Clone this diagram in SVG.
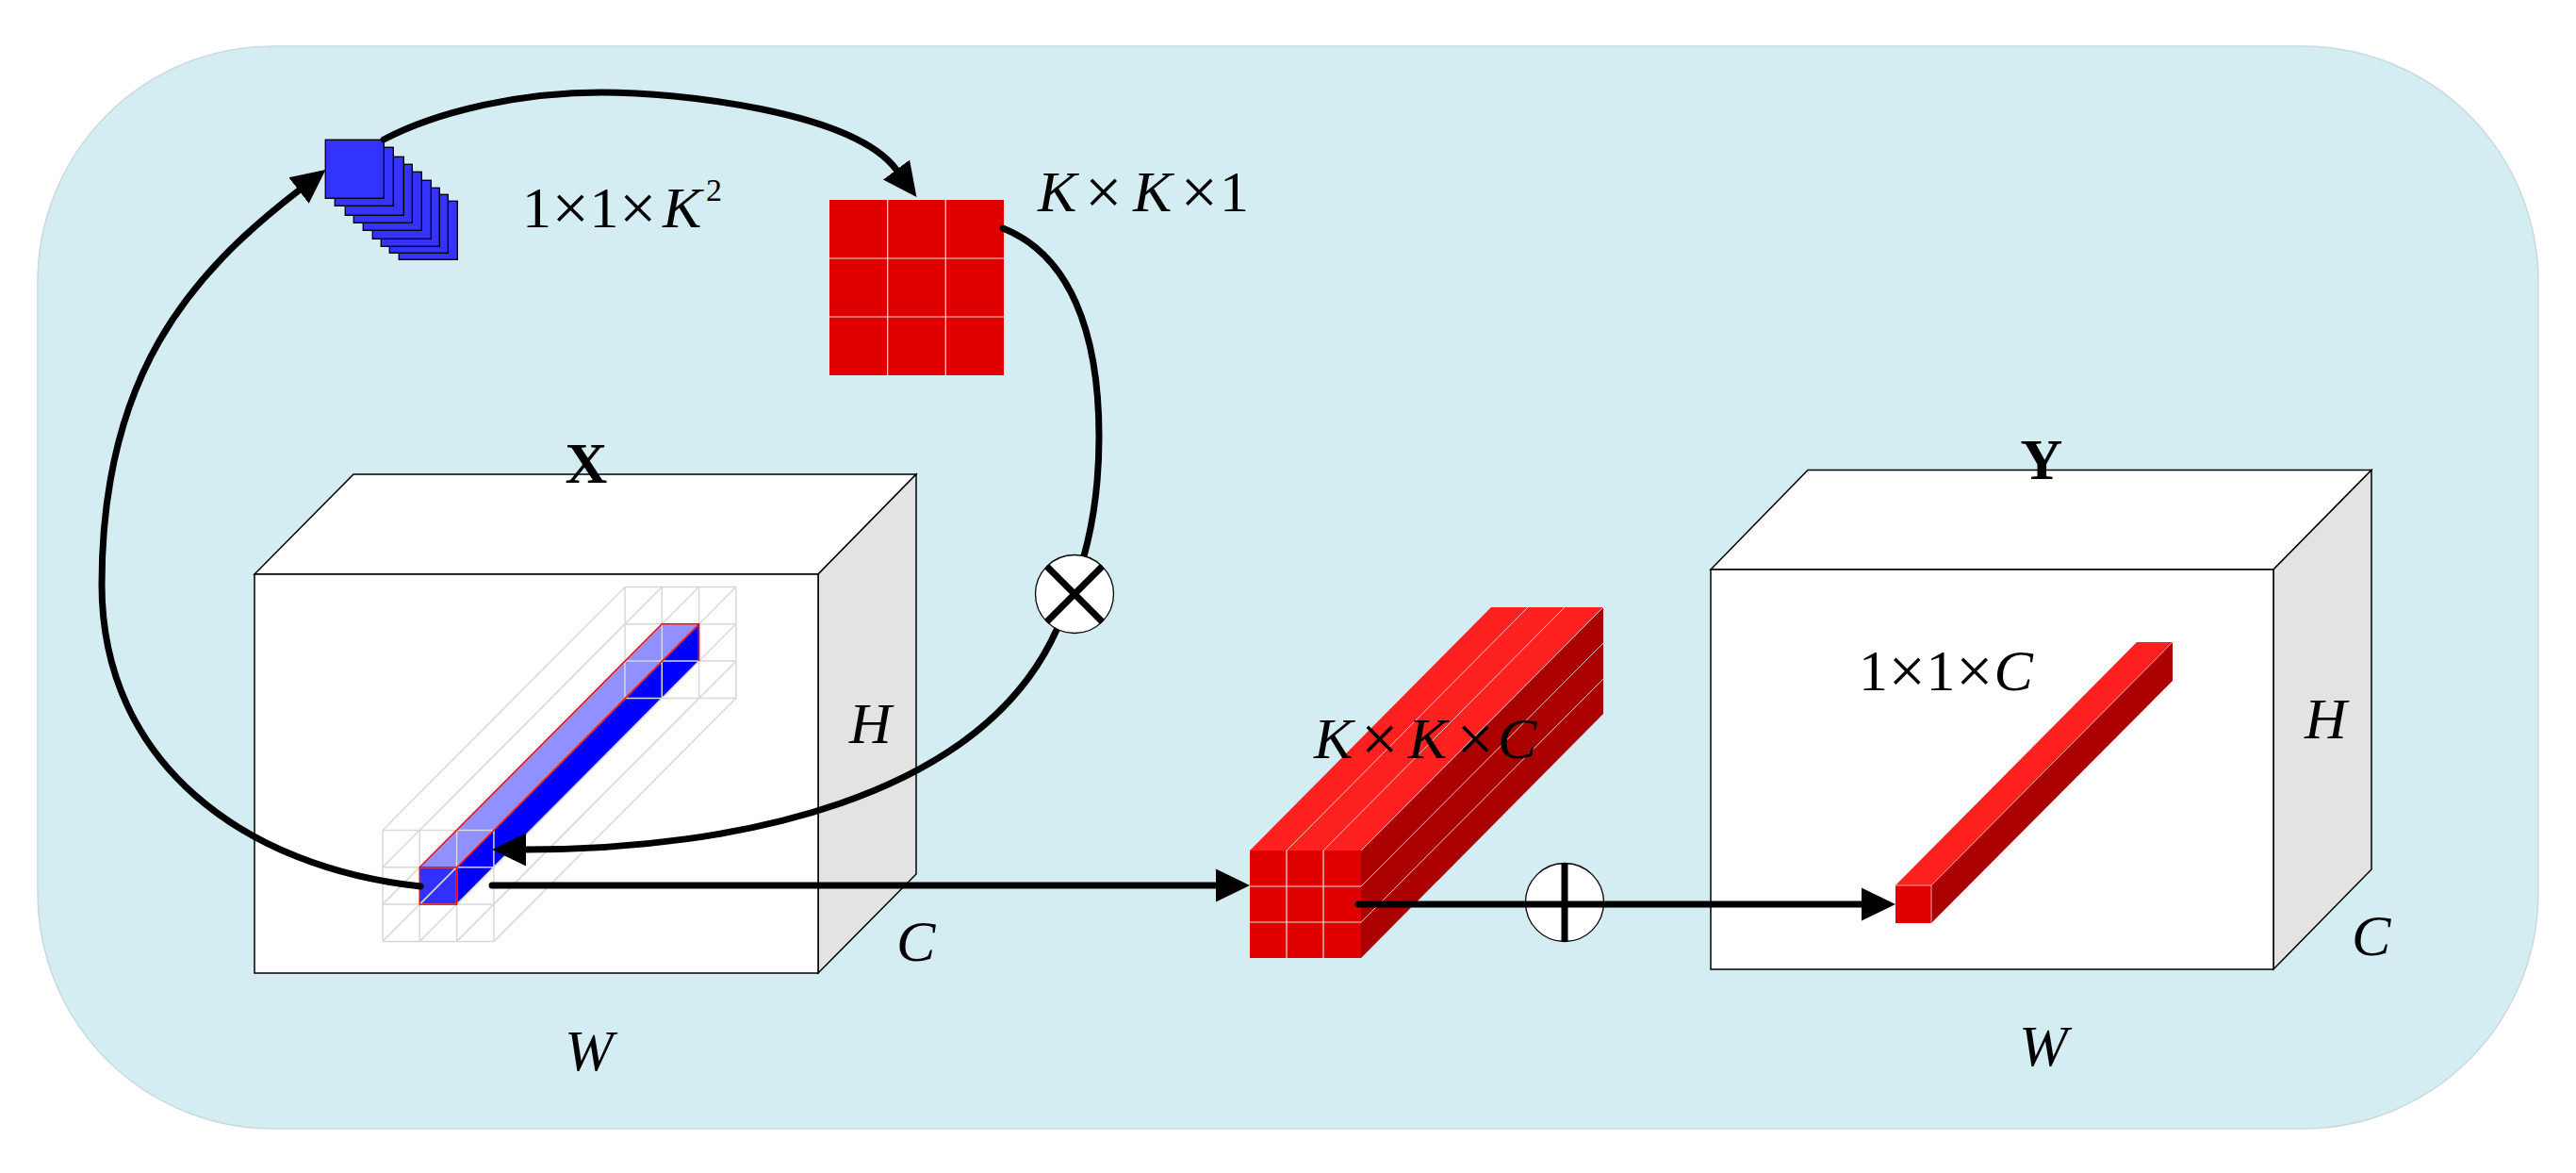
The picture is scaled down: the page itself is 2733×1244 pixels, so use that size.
<svg xmlns="http://www.w3.org/2000/svg" width="2733" height="1244" viewBox="0 0 2733 1244">
<style>
.t{font-family:"Liberation Serif","Times New Roman",serif;font-size:62px;fill:#000}
.i{font-style:italic}
.b{font-weight:bold}
.m{font-size:70px}
.cube{stroke:#000;stroke-width:1.5;stroke-linejoin:miter}
.front{fill:#fff}
.top{fill:#fff}
.side{fill:#e3e3e3}
.grid{fill:none;stroke:#d8d8d8;stroke-width:1.5}
.lite{fill:none;stroke:#e4e4e4;stroke-width:1.2}
.conn{fill:none;stroke:#000;stroke-width:7;stroke-linecap:round;stroke-linejoin:round}
.op{fill:#fff;stroke:#000;stroke-width:1.3}
.opl{stroke:#000;stroke-width:7}
.sq{fill:#3333ff;stroke:#000;stroke-width:1.4}
</style>
<defs>
<marker id="ah" viewBox="0 -20 40 40" markerWidth="40" markerHeight="40" refX="0" refY="0" orient="auto" markerUnits="userSpaceOnUse">
<path d="M0,-17.5 L36,0 L0,17.5 z" fill="#000"/>
</marker>
</defs>

<g id="background">
<rect x="40" y="49" width="2653" height="1148" rx="250" ry="250" fill="#d4edf2" stroke="#c9dade" stroke-width="1.5"/>
</g>

<g id="cube-x">
<polygon class="cube top" points="270,609 375,503 972,503 868,609"/>
<polygon class="cube side" points="868,609 972,503 972,927 868,1032"/>
<rect class="cube front" x="270" y="609" width="598" height="423"/>
<g id="x-column">
<polygon points="445.3,919.8 484.6,919.8 741.6,661.8 702.3,661.8" fill="#9090ff"/>
<polygon points="484.6,919.8 741.6,661.8 741.6,701.1 484.6,959.1" fill="#0000ff"/>
<rect x="445.3" y="919.8" width="39.3" height="39.3" fill="#3030ff"/>
</g>
<path class="grid" d="M406,880.5V998.4M445.3,880.5V998.4M484.6,880.5V998.4M523.9,880.5V998.4M406,880.5H523.9M406,919.8H523.9M406,959.1H523.9M406,998.4H523.9
M663,622.5V740.4M702.3,622.5V740.4M741.6,622.5V740.4M780.9,622.5V740.4M663,622.5H780.9M663,661.8H780.9M663,701.1H780.9M663,740.4H780.9
M406,880.5l257,-258M445.3,880.5l257,-258M484.6,880.5l257,-258M523.9,880.5l257,-258
M406,919.8l257,-258M445.3,919.8l257,-258M484.6,919.8l257,-258M523.9,919.8l257,-258
M406,959.1l257,-258M445.3,959.1l257,-258M484.6,959.1l257,-258M523.9,959.1l257,-258
M406,998.4l257,-258M445.3,998.4l257,-258M484.6,998.4l257,-258M523.9,998.4l257,-258"/>
<path d="M445.3,919.8 L702.3,661.8 L741.6,661.8 L741.6,701.1 M484.6,919.8 L741.6,661.8" fill="none" stroke="#ff0000" stroke-width="1.5"/>
<rect x="445.3" y="919.8" width="39.3" height="39.3" fill="none" stroke="#ff0000" stroke-width="1.5"/>
</g>

<g id="cube-y">
<polygon class="cube top" points="1815,604 1918,498.5 2516,498.5 2412,604"/>
<polygon class="cube side" points="2412,604 2516,498.5 2516,922 2412,1028"/>
<rect class="cube front" x="1815" y="604" width="597" height="424"/>
<g id="y-column">
<polygon points="2011,939 2049,939 2305,681 2267,681" fill="#ff2020"/>
<polygon points="2049,939 2305,681 2305,722 2049,979" fill="#aa0000"/>
<rect x="2011" y="939" width="38" height="40" fill="#e00000"/>
<path d="M2049,939 L2305,681 M2011,939H2049V979" fill="none" stroke="#f0a0a0" stroke-width="1"/>
</g>
</g>

<g id="kernel-stack">
<rect class="sq" x="423.3" y="213.3" width="62" height="62"/>
<rect class="sq" x="413.3" y="206.3" width="62" height="62"/>
<rect class="sq" x="404.3" y="199.3" width="62" height="62"/>
<rect class="sq" x="395.3" y="191.3" width="62" height="62"/>
<rect class="sq" x="385.3" y="182.3" width="62" height="62"/>
<rect class="sq" x="375.3" y="174.3" width="62" height="62"/>
<rect class="sq" x="366.3" y="166.3" width="62" height="62"/>
<rect class="sq" x="355.3" y="156.3" width="62" height="62"/>
<rect class="sq" x="345.3" y="148.3" width="62" height="62"/>
</g>

<g id="kernel-grid">
<rect x="880" y="212" width="185" height="186" fill="#e00000"/>
<path class="lite" d="M941.7,212V398M1003.3,212V398M880,274H1065M880,336H1065"/>
</g>

<g id="unfolded-patch">
<polygon points="1326,902 1444,902 1701,644 1582,644" fill="#ff2020"/>
<polygon points="1444,902 1701,644 1701,757 1444,1016" fill="#aa0000"/>
<rect x="1326" y="902" width="118" height="114" fill="#e00000"/>
<path class="lite" d="M1365,902V1016M1404,902V1016M1326,940H1444M1326,978H1444"/>
<path d="M1365,902L1621,644M1404,902L1660,644M1444,902L1701,644M1444,940L1701,682M1444,978L1701,720" fill="none" stroke="#e8c8c8" stroke-width="1"/>
</g>

<g id="connectors">
<path class="conn" d="M446,940 C260,920 108,810 108,620 C108,400 200,292 317,202" marker-end="url(#ah)"/>
<path class="conn" d="M407,148 C470,115 560,98 638,98 C720,98 905,118 951,180" marker-end="url(#ah)"/>
<path class="conn" d="M1064,242 C1134,270 1166,350 1166,463 C1166,550 1148,608 1121,668 C1040,848 778,901 558,901" marker-end="url(#ah)"/>
<path class="conn" d="M522,939 H1290" marker-end="url(#ah)"/>
<path class="conn" d="M1441,959 H1975" marker-end="url(#ah)"/>
</g>

<g id="op-mul">
<circle class="op" cx="1140" cy="630" r="41.5"/>
<path class="opl" d="M1110.5,600.5 L1169.5,659.5 M1169.5,600.5 L1110.5,659.5" stroke-width="6"/>
</g>

<g id="op-add">
<circle class="op" cx="1660" cy="957" r="41.5"/>
<path class="opl" d="M1660,915.5 V998.5 M1618.5,959 H1701.5"/>
</g>

<g id="labels">
<text class="t"><tspan x="554" y="241">1</tspan><tspan class="m" x="585.5" y="244">×</tspan><tspan x="625.5" y="241">1</tspan><tspan class="m" x="657" y="244">×</tspan><tspan x="703" y="241" class="i">K</tspan><tspan x="749" y="213" font-size="34">2</tspan></text>
<text class="t"><tspan x="1101" y="224" class="i">K</tspan><tspan class="m" x="1151" y="227">×</tspan><tspan x="1202" y="224" class="i">K</tspan><tspan class="m" x="1252.6" y="227">×</tspan><tspan x="1294" y="224">1</tspan></text>
<text class="t"><tspan x="1394" y="804" class="i">K</tspan><tspan class="m" x="1444" y="807">×</tspan><tspan x="1494" y="804" class="i">K</tspan><tspan class="m" x="1545.4" y="807">×</tspan><tspan x="1589" y="804" class="i">C</tspan></text>
<text class="t"><tspan x="1972" y="732">1</tspan><tspan class="m" x="2003.5" y="735">×</tspan><tspan x="2043.5" y="732">1</tspan><tspan class="m" x="2075" y="735">×</tspan><tspan x="2115.5" y="732" class="i">C</tspan></text>
<text class="t b" x="622" y="512" text-anchor="middle">X</text>
<text class="t b" x="2166" y="508" text-anchor="middle">Y</text>
<text class="t i" x="901" y="788">H</text>
<text class="t i" x="951" y="1019">C</text>
<text class="t i" x="599" y="1135">W</text>
<text class="t i" x="2445" y="783">H</text>
<text class="t i" x="2495" y="1013">C</text>
<text class="t i" x="2142" y="1130">W</text>
</g>
</svg>
